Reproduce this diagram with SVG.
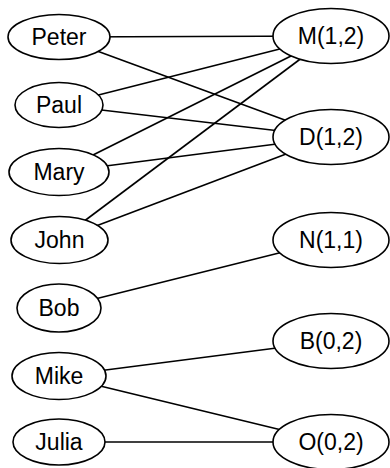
<svg xmlns="http://www.w3.org/2000/svg" width="390" height="468" viewBox="0 0 390 468">
  <style>
    .edge { stroke: #000; stroke-width: 1.6; fill: none; }
    .node ellipse { fill: #fff; stroke: #000; stroke-width: 1.6; }
    .node text { font-family: "Liberation Sans", Arial, sans-serif; font-size: 23px; text-anchor: middle; fill: #000; }
  </style>
  <rect width="390" height="468" fill="#fff"/>
  <!-- connectors run centre to centre; the white ellipses cover the inner ends -->
  <g id="edges">
    <line class="edge" x1="59" y1="37" x2="331" y2="36"/>
    <line class="edge" x1="59" y1="37" x2="331" y2="137"/>
    <line class="edge" x1="59" y1="105" x2="331" y2="36"/>
    <line class="edge" x1="59" y1="105" x2="331" y2="137"/>
    <line class="edge" x1="59" y1="172" x2="331" y2="36"/>
    <line class="edge" x1="59" y1="172" x2="331" y2="137"/>
    <line class="edge" x1="59" y1="240" x2="331" y2="36"/>
    <line class="edge" x1="59" y1="240" x2="331" y2="137"/>
    <line class="edge" x1="59" y1="308" x2="331" y2="240"/>
    <line class="edge" x1="59" y1="376" x2="331" y2="341"/>
    <line class="edge" x1="59" y1="376" x2="331" y2="442"/>
    <line class="edge" x1="59" y1="442" x2="331" y2="442"/>
  </g>
  <g id="peter" class="node"><ellipse cx="59" cy="37" rx="51" ry="22.5"/><text x="59" y="45">Peter</text></g>
  <g id="paul" class="node"><ellipse cx="59" cy="105" rx="44" ry="22.5"/><text x="59" y="113">Paul</text></g>
  <g id="mary" class="node"><ellipse cx="59" cy="172" rx="50" ry="23.5"/><text x="59" y="180">Mary</text></g>
  <g id="john" class="node"><ellipse cx="59.5" cy="240" rx="48.5" ry="23.5"/><text x="59.5" y="248">John</text></g>
  <g id="bob" class="node"><ellipse cx="59" cy="308" rx="42" ry="24"/><text x="59" y="316">Bob</text></g>
  <g id="mike" class="node"><ellipse cx="59" cy="376" rx="47" ry="23.5"/><text x="59" y="384">Mike</text></g>
  <g id="julia" class="node"><ellipse cx="59" cy="442" rx="46" ry="23"/><text x="59" y="450">Julia</text></g>
  <g id="m12" class="node"><ellipse cx="331" cy="36" rx="58" ry="27.5"/><text x="331" y="44">M(1,2)</text></g>
  <g id="d12" class="node"><ellipse cx="331" cy="137" rx="58" ry="27.5"/><text x="331" y="145">D(1,2)</text></g>
  <g id="n11" class="node"><ellipse cx="331" cy="240" rx="58" ry="27.5"/><text x="331" y="248">N(1,1)</text></g>
  <g id="b02" class="node"><ellipse cx="331" cy="341" rx="58" ry="27.5"/><text x="331" y="349">B(0,2)</text></g>
  <g id="o02" class="node"><ellipse cx="331" cy="442" rx="58" ry="27.5"/><text x="331" y="450">O(0,2)</text></g>
</svg>
